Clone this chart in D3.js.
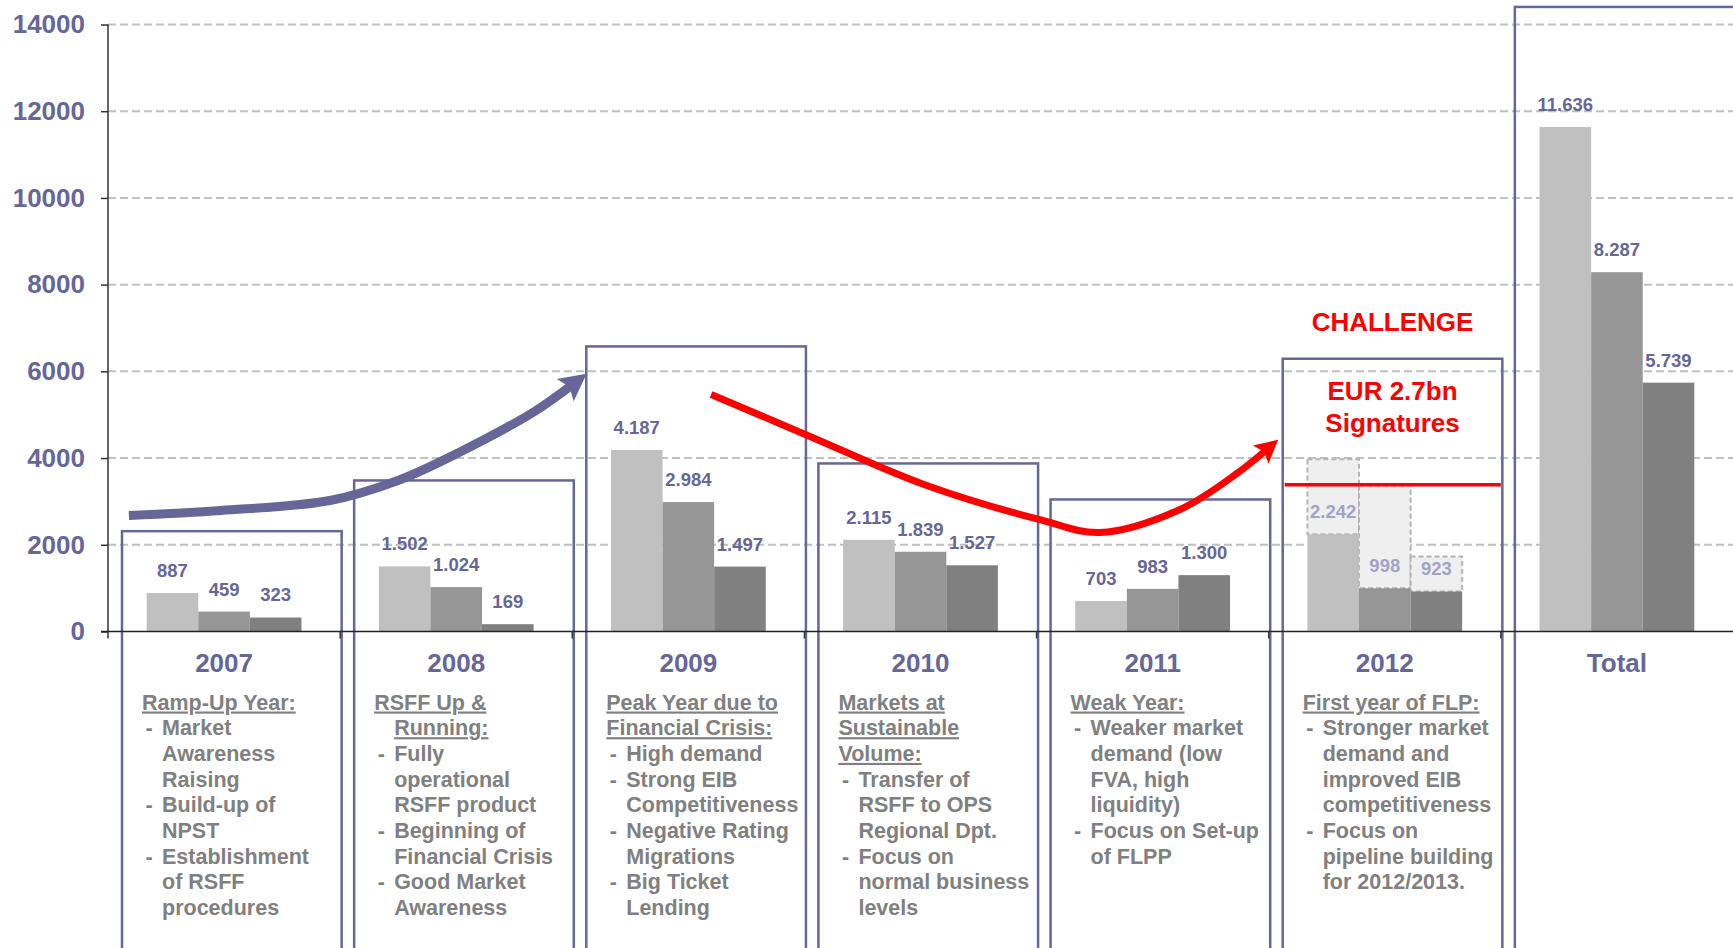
<!DOCTYPE html>
<html>
<head>
<meta charset="utf-8">
<script src="https://cdn.jsdelivr.net/npm/d3@7"></script>
<style>
  html, body { margin: 0; padding: 0; background: #fff; }
  svg { display: block; font-family: "Liberation Sans", Arial, sans-serif; }
</style>
</head>
<body>
<div id="chart"></div>
<script>
// data (EUR m)
const categories = ["2007", "2008", "2009", "2010", "2011", "2012", "Total"];
const series1 = [887, 1502, 4187, 2115, 703, 2242, 11636];
const series2 = [459, 1024, 2984, 1839, 983, 998, 8287];
const series3 = [323, 169, 1497, 1527, 1300, 923, 5739];
const target2012 = [3970, 3370, 1730];     // dashed boxes on 2012
const challengeLevel = 3385;                // red line, EUR 2.7bn
const boxTops = [2314, 3484, 6575, 3876, 3045, 6291, 14405];
const yTicks = [0, 2000, 4000, 6000, 8000, 10000, 12000, 14000];

const descriptions = [
  { title: ["Ramp-Up Year:"], items: [["Market", "Awareness", "Raising"], ["Build-up of", "NPST"], ["Establishment", "of RSFF", "procedures"]] },
  { title: ["RSFF Up &", "Running:"], items: [["Fully", "operational", "RSFF product"], ["Beginning of", "Financial Crisis"], ["Good Market", "Awareness"]] },
  { title: ["Peak Year due to", "Financial Crisis:"], items: [["High demand"], ["Strong EIB", "Competitiveness"], ["Negative Rating", "Migrations"], ["Big Ticket", "Lending"]] },
  { title: ["Markets at", "Sustainable", "Volume:"], items: [["Transfer of", "RSFF to OPS", "Regional Dpt."], ["Focus on", "normal business", "levels"]] },
  { title: ["Weak Year:"], items: [["Weaker market", "demand (low", "FVA, high", "liquidity)"], ["Focus on Set-up", "of FLPP"]] },
  { title: ["First year of FLP:"], items: [["Stronger market", "demand and", "improved EIB", "competitiveness"], ["Focus on", "pipeline building", "for 2012/2013."]] }
];

// annotation curves as [category position, value]
const growthArrow = [[-0.41, 2676], [-0.013, 2791], [0.456, 3022], [0.749, 3483], [1.012, 4129], [1.344, 5098], [1.562, 5945]];
const challengeArrow = [[2.098, 5468], [2.524, 4499], [3.015, 3391], [3.511, 2584], [3.773, 2284], [4.118, 2815], [4.363, 3645], [4.541, 4423]];

const width = 1733, height = 948;
const slate = "#666699", grey = "#808080";
const barColors = ["#c0c0c0", "#969696", "#808080"];
const series = [series1, series2, series3];

const svg = d3.select("#chart").append("svg")
  .attr("width", width)
  .attr("height", height);

const x = d3.scaleBand().domain(categories).range([108, width]);
const y = d3.scaleLinear().domain([0, 14000]).range([631.5, 24.5]);
const xs = d3.scaleBand().domain([0, 1, 2]).range([x.bandwidth() / 6, x.bandwidth() * 5 / 6]);
const xt = t => x.range()[0] + (t + 0.5) * x.step();
const fmt = d3.formatLocale({ decimal: ",", thousands: ".", grouping: [3], currency: ["", ""] }).format(",d");

// grid
svg.append("g").selectAll("line")
  .data(yTicks.filter(d => d > 0))
  .join("line")
    .attr("x1", 108).attr("x2", width)
    .attr("y1", d => y(d)).attr("y2", d => y(d))
    .attr("stroke", "#c0c0c0")
    .attr("stroke-width", 2)
    .attr("stroke-dasharray", "8,4");

// year boxes
svg.append("g").selectAll("rect")
  .data(categories)
  .join("rect")
    .attr("x", d => x(d) + 14)
    .attr("width", x.step() - 12.5)
    .attr("y", (d, i) => y(boxTops[i]))
    .attr("height", (d, i) => 980 - y(boxTops[i]))
    .attr("fill", "none")
    .attr("stroke", slate)
    .attr("stroke-width", 2.5);

// 2012 dashed targets
const i2012 = categories.indexOf("2012");
svg.append("g").selectAll("rect")
  .data(target2012)
  .join("rect")
    .attr("x", (d, j) => x("2012") + xs(j))
    .attr("width", xs.bandwidth())
    .attr("y", d => y(d))
    .attr("height", (d, j) => y(series[j][i2012]) - y(d))
    .attr("fill", "#efefef")
    .attr("stroke", "#b4b4b4")
    .attr("stroke-width", 2)
    .attr("stroke-dasharray", "5,3");

// bars
const groups = svg.append("g").selectAll("g")
  .data(categories)
  .join("g")
    .attr("transform", d => "translate(" + x(d) + ",0)");

groups.selectAll("rect")
  .data((d, i) => series.map((s, j) => ({ j: j, v: s[i] })))
  .join("rect")
    .attr("x", d => xs(d.j))
    .attr("width", xs.bandwidth())
    .attr("y", d => y(d.v))
    .attr("height", d => y(0) - y(d.v))
    .attr("fill", d => barColors[d.j]);

groups.selectAll("text")
  .data((d, i) => series.map((s, j) => ({ j: j, v: s[i], c: d })))
  .join("text")
    .attr("x", d => xs(d.j) + xs.bandwidth() / 2)
    .attr("y", d => y(d.v) - 16)
    .attr("text-anchor", "middle")
    .attr("font-size", 18.5)
    .attr("font-weight", "bold")
    .attr("fill", d => d.c === "2012" ? "#a3a3c6" : slate)
    .text(d => fmt(d.v));

// y axis
const yAxis = svg.append("g")
  .attr("transform", "translate(108,0)")
  .call(d3.axisLeft(y).tickValues(yTicks).tickSize(7).tickPadding(16).tickFormat(d3.format("d")));
yAxis.select(".domain").remove();
yAxis.selectAll("line").attr("stroke", "#333").attr("stroke-width", 1.5);
yAxis.selectAll("text")
  .attr("fill", slate)
  .style("font-size", "26px")
  .style("font-weight", "bold")
  .style("font-family", "'Liberation Sans', Arial, sans-serif");

svg.append("line")
  .attr("x1", 108).attr("x2", 108)
  .attr("y1", y(14000)).attr("y2", y(0) + 7)
  .attr("stroke", "#333").attr("stroke-width", 1.5);

// x axis
svg.append("line")
  .attr("x1", 101).attr("x2", width)
  .attr("y1", y(0)).attr("y2", y(0))
  .attr("stroke", "#222").attr("stroke-width", 1.5);
svg.append("g").selectAll("line")
  .data(d3.range(1, categories.length))
  .join("line")
    .attr("x1", i => x.range()[0] + i * x.step())
    .attr("x2", i => x.range()[0] + i * x.step())
    .attr("y1", y(0)).attr("y2", y(0) + 7)
    .attr("stroke", "#333").attr("stroke-width", 1.5);

svg.append("g").selectAll("text")
  .data(categories)
  .join("text")
    .attr("x", d => x(d) + x.bandwidth() / 2)
    .attr("y", 672)
    .attr("text-anchor", "middle")
    .attr("font-size", 26)
    .attr("font-weight", "bold")
    .attr("fill", slate)
    .text(d => d);

// descriptions under each year
const lineH = 25.7;
descriptions.forEach((desc, i) => {
  const x0 = x(categories[i]) + 34;
  const g = svg.append("g")
    .attr("font-size", 21.5)
    .attr("font-weight", "bold")
    .attr("fill", grey);
  let yy = 709.5;
  desc.title.forEach((t, k) => {
    g.append("text")
      .attr("x", categories[i] === "2008" && k > 0 ? x0 + 20 : x0)
      .attr("y", yy)
      .style("text-decoration", "underline")
      .text(t);
    yy += lineH;
  });
  desc.items.forEach(item => {
    g.append("text").attr("x", x0 + 3.5).attr("y", yy).text("-");
    item.forEach(t => {
      g.append("text").attr("x", x0 + 20).attr("y", yy).text(t);
      yy += lineH;
    });
  });
});

// challenge annotation
const box2012 = x("2012") + 14;
svg.append("line")
  .attr("x1", box2012 + 2).attr("x2", box2012 + x.step() - 14)
  .attr("y1", y(challengeLevel)).attr("y2", y(challengeLevel))
  .attr("stroke", "#ff0000").attr("stroke-width", 3.5);

const cx2012 = box2012 + (x.step() - 12.5) / 2;
[["CHALLENGE", 6932], ["EUR 2.7bn", 5350], ["Signatures", 4607]].forEach(d => {
  svg.append("text")
    .attr("x", cx2012)
    .attr("y", y(d[1]))
    .attr("text-anchor", "middle")
    .attr("font-size", 26)
    .attr("font-weight", "bold")
    .attr("fill", "#ff0000")
    .text(d[0]);
});

// curved arrows
function arrow(points, color, w, headLen, headW) {
  const line = d3.line()
    .x(d => xt(d[0]))
    .y(d => y(d[1]))
    .curve(d3.curveCatmullRom.alpha(0.5));
  const path = svg.append("path")
    .attr("d", line(points))
    .attr("fill", "none")
    .attr("stroke", color)
    .attr("stroke-width", w);
  const node = path.node(), L = node.getTotalLength();
  path.attr("stroke-dasharray", (L - headLen * 0.7) + " " + L);
  const tip = node.getPointAtLength(L), back = node.getPointAtLength(L - headLen);
  const a = Math.atan2(tip.y - back.y, tip.x - back.x);
  const ux = Math.cos(a), uy = Math.sin(a);
  const bx = tip.x - ux * headLen, by = tip.y - uy * headLen;
  const nx = tip.x - ux * headLen * 0.8, ny = tip.y - uy * headLen * 0.8;
  const pts = [
    [tip.x, tip.y],
    [bx - uy * headW / 2, by + ux * headW / 2],
    [nx, ny],
    [bx + uy * headW / 2, by - ux * headW / 2]
  ];
  svg.append("path")
    .attr("d", "M" + pts.join("L") + "Z")
    .attr("fill", color);
}

arrow(growthArrow, slate, 9, 27, 28);
arrow(challengeArrow, "#ff0000", 7, 23, 24);
</script>
</body>
</html>
